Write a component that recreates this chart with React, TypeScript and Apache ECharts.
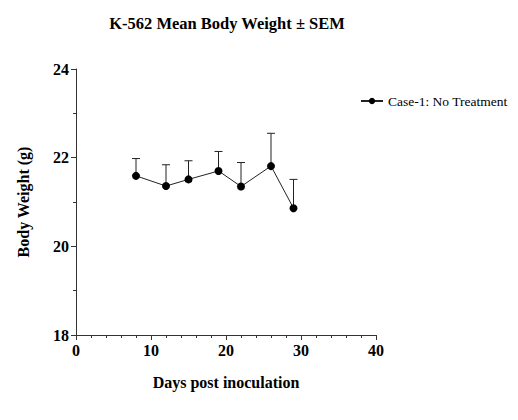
import React, { useEffect, useRef } from "react";
import * as echarts from "echarts";

const days = [8, 12, 15, 19, 22, 26, 29];
const meanWeight = [21.59, 21.36, 21.51, 21.7, 21.35, 21.81, 20.86];
const sem = [0.39, 0.48, 0.42, 0.44, 0.54, 0.74, 0.65];
const seriesName = "Case-1: No Treatment";

const FONT = "'Liberation Serif', 'Times New Roman', serif";

export default function App() {
  const ref = useRef<HTMLDivElement>(null);
  useEffect(() => {
    if (!ref.current) return;
    const chart = echarts.init(ref.current, null, { renderer: "svg" });
    const points = days.map((d, i) => [d, meanWeight[i]]);
    const errData = days.map((d, i) => [d, meanWeight[i], meanWeight[i] + sem[i]]);
    chart.setOption({
      animation: false,
      backgroundColor: "#fff",
      title: {
        text: "K-562 Mean Body Weight ± SEM",
        left: 222,
        textAlign: "center",
        top: 10,
        textStyle: { fontFamily: FONT, fontSize: 16.5, fontWeight: "bold", color: "#000" },
      },
      legend: {
        left: 360,
        top: 94,
        padding: 0,
        itemWidth: 22,
        itemHeight: 8,
        itemGap: 4,
        data: [{ name: seriesName }],
        textStyle: { fontFamily: FONT, fontSize: 13.5, color: "#000" },
      },
      grid: { left: 76, right: 142, top: 69, bottom: 85 },
      xAxis: {
        type: "value",
        min: 0,
        max: 40,
        interval: 10,
        name: "Days post inoculation",
        nameLocation: "middle",
        nameGap: 39,
        nameTextStyle: { fontFamily: FONT, fontSize: 16, fontWeight: "bold", color: "#000" },
        axisLine: { show: true, onZero: false, lineStyle: { color: "#333", width: 1 } },
        axisTick: { show: true, length: 5, lineStyle: { color: "#333" } },
        minorTick: { show: true, splitNumber: 5, length: 3, lineStyle: { color: "#333" } },
        splitLine: { show: false },
        axisLabel: { fontFamily: FONT, fontSize: 16, fontWeight: "bold", color: "#000", margin: 7 },
      },
      yAxis: {
        type: "value",
        min: 18,
        max: 24,
        interval: 2,
        name: "Body Weight (g)",
        nameLocation: "middle",
        nameGap: 45,
        nameTextStyle: { fontFamily: FONT, fontSize: 16, fontWeight: "bold", color: "#000" },
        axisLine: { show: true, onZero: false, lineStyle: { color: "#333", width: 1 } },
        axisTick: { show: true, length: 5, lineStyle: { color: "#333" } },
        minorTick: { show: true, splitNumber: 2, length: 3, lineStyle: { color: "#333" } },
        splitLine: { show: false },
        axisLabel: { fontFamily: FONT, fontSize: 16, fontWeight: "bold", color: "#000", margin: 7 },
      },
      series: [
        {
          name: seriesName,
          type: "line",
          data: points,
          symbol: "circle",
          symbolSize: 8,
          itemStyle: { color: "#000" },
          lineStyle: { color: "#222", width: 1 },
          z: 3,
        },
        {
          name: "err",
          type: "custom",
          data: errData,
          z: 2,
          renderItem: (params: any, api: any) => {
            const x = api.value(0);
            const lo = api.coord([x, api.value(1)]);
            const hi = api.coord([x, api.value(2)]);
            const cap = 4;
            return {
              type: "group",
              children: [
                {
                  type: "line",
                  shape: { x1: lo[0], y1: lo[1], x2: hi[0], y2: hi[1] },
                  style: { stroke: "#222", lineWidth: 1 },
                },
                {
                  type: "line",
                  shape: { x1: hi[0] - cap, y1: hi[1], x2: hi[0] + cap, y2: hi[1] },
                  style: { stroke: "#222", lineWidth: 1 },
                },
              ],
            };
          },
        },
      ],
    });
    return () => chart.dispose();
  }, []);
  return (
    <div
      ref={ref}
      style={{ position: "absolute", left: 0, top: 0, width: 518, height: 420 }}
    />
  );
}
